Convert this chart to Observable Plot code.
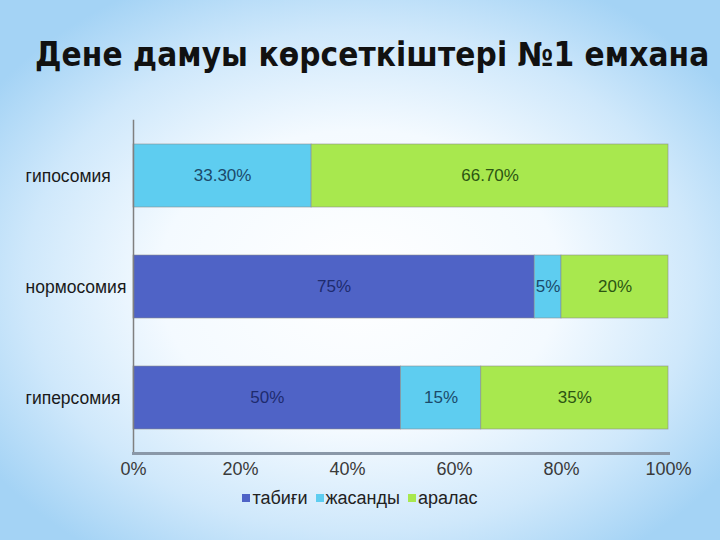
<!DOCTYPE html>
<html>
<head>
<meta charset="utf-8">
<script src="https://cdn.jsdelivr.net/npm/d3@7"></script>
<script src="https://cdn.jsdelivr.net/npm/@observablehq/plot@0.6"></script>
<style>
  html, body { margin: 0; padding: 0; }
  body {
    width: 720px; height: 540px; overflow: hidden; position: relative;
    background: radial-gradient(ellipse 62% 62% at 50% 52%, #ffffff 0%, #f4faff 45%, #cfe8fb 75%, #a4d3f5 100%);
    font-family: "Liberation Sans", Arial, sans-serif;
  }
  #title {
    position: absolute; left: 35px; top: 35px; white-space: nowrap;
    font-family: "DejaVu Sans Condensed", "DejaVu Sans", sans-serif;
    font-weight: bold; font-size: 33px; color: #111; letter-spacing: 0.1px;
  }
  #chart { position: absolute; left: 0; top: 0; }
  #legend {
    position: absolute; top: 488px; left: 0; width: 720px; text-align: center;
    font-size: 18px; color: #222; white-space: nowrap;
  }
  #legend span.sw { display: inline-block; width: 8px; height: 8px; margin-right: 2px; vertical-align: 2px; }
  #legend span.item { margin: 0 4px; }
</style>
</head>
<body>
<div id="title">Дене дамуы көрсеткіштері №1 емхана</div>
<div id="chart"></div>
<div id="legend"></div>
<script>
const categories = ["гипосомия", "нормосомия", "гиперсомия"];
const seriesNames = ["табиғи", "жасанды", "аралас"];
const tabigi = [0, 75, 50];
const zhasandy = [33.3, 5, 15];
const aralas = [66.7, 20, 35];
const xTicks = [0, 20, 40, 60, 80, 100];
const colors = ["#4f63c6", "#5ecdf0", "#a8e84e"];
const labelColors = ["#1e2b6e", "#1b4a6a", "#2c5512"];

const seriesValues = [tabigi, zhasandy, aralas];
const rows = [];
seriesNames.forEach((s, si) => {
  categories.forEach((c, ci) => {
    rows.push({cat: c, series: s, value: seriesValues[si][ci]});
  });
});
const fmt = v => (Number.isInteger(v) ? v : v.toFixed(2)) + "%";

const plot = Plot.plot({
  width: 720,
  height: 540,
  marginLeft: 133,
  marginRight: 52,
  marginTop: 120,
  marginBottom: 87,
  style: {background: "transparent", fontFamily: "Liberation Sans, Arial, sans-serif"},
  x: {domain: [0, 100], label: null},
  y: {domain: categories, paddingInner: 0.43, paddingOuter: 0.215, label: null},
  color: {domain: seriesNames, range: colors},
  marks: [
    Plot.barX(rows, Plot.stackX({
      x: "value", y: "cat", z: "series", fill: "series", order: seriesNames,
      stroke: "#8c8c8c", strokeWidth: 0.8, strokeOpacity: 0.7
    })),
    Plot.textX(rows, Plot.stackX({
      x: "value", y: "cat", z: "series", order: seriesNames,
      text: d => d.value > 0 ? fmt(d.value) : "",
      fill: d => labelColors[seriesNames.indexOf(d.series)],
      fontSize: 17
    })),
    Plot.axisY({tickSize: 0, tickPadding: 0, textAnchor: "start", dx: -108, fontSize: 17.5, color: "#1a1a1a", label: null}),
    Plot.axisX({ticks: xTicks, tickFormat: d => d + "%", tickSize: 0, tickPadding: 9, fontSize: 18, color: "#3a3a3a", label: null}),
    Plot.frame({anchor: "left", stroke: "#808080", strokeWidth: 1.5}),
    Plot.frame({anchor: "bottom", stroke: "#8a98a8", strokeWidth: 3})
  ]
});
document.getElementById("chart").appendChild(plot);

const legend = document.getElementById("legend");
legend.innerHTML = seriesNames.map((s, i) =>
  `<span class="item"><span class="sw" style="background:${colors[i]}"></span>${s}</span>`).join("");
</script>
</body>
</html>
